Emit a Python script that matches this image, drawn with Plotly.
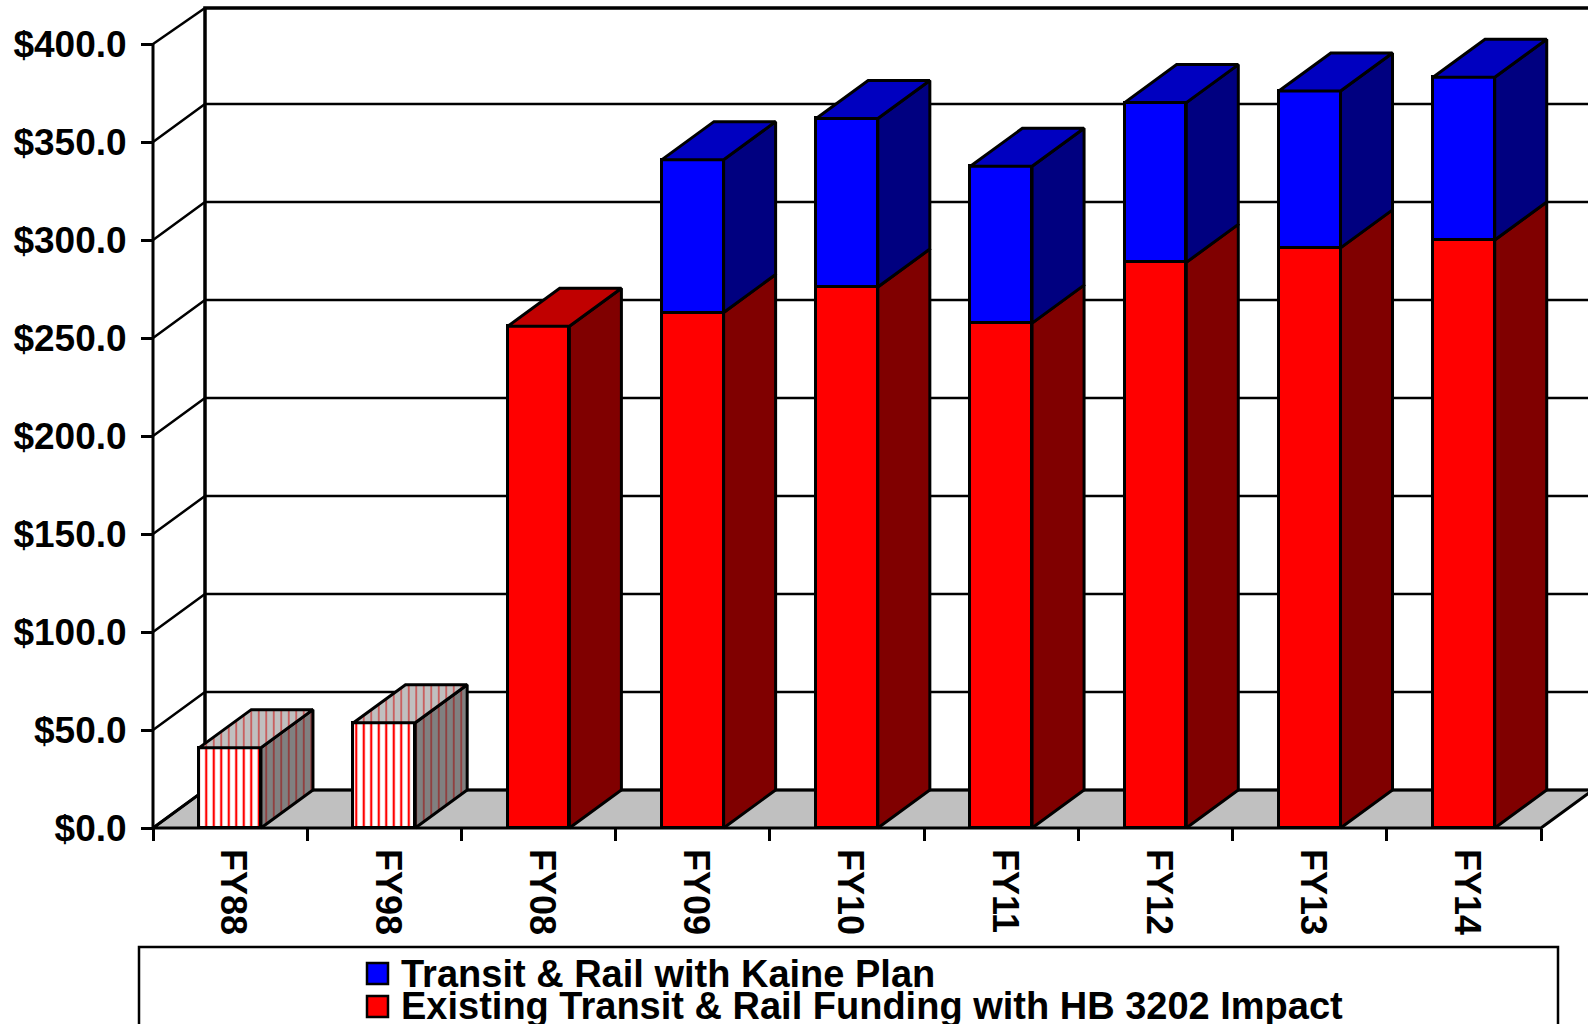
import plotly.graph_objects as go

categories = ["FY88", "FY98", "FY08", "FY09", "FY10", "FY11", "FY12", "FY13", "FY14"]
existing_funding = [41, 53.7, 256, 263, 276, 257.6, 288.6, 296, 300]
kaine_plan = [None, None, None, 78, 86, 80, 81.5, 80, 83]
hatched = [True, True, False, False, False, False, False, False, False]
y_ticks = [0, 50, 100, 150, 200, 250, 300, 350, 400]
y_labels = ["$0.0", "$50.0", "$100.0", "$150.0", "$200.0", "$250.0", "$300.0", "$350.0", "$400.0"]
legend_labels = ["Transit & Rail with Kaine Plan", "Existing Transit & Rail Funding with HB 3202 Impact"]

W, H = 1588, 1024
# pixel position of the chart's front axes; the axis ranges are extended to fill the page
X0, X1, Y0, Y400 = 153, 1541, 828, 44
n = len(categories)
CAT = (X1 - X0) / n
UNIT = (Y0 - Y400) / 400
x_range = [-X0 / CAT, (W - X0) / CAT]
y_range = [-(H - Y0) / UNIT, Y0 / UNIT]
DX = 52 / CAT          # depth in category units
DY = 38 / UNIT         # depth in value units
DY_TOP = 36 / UNIT     # the top edge of the back wall sits slightly lower
BAR = 0.40
LW = 3
FONT = "Liberation Sans"


def px(v):
    return v / W


def py(v):
    return (H - v) / H


fig = go.Figure()


def poly(xs, ys, fill=None, lw=LW, pattern=None, axes=("x", "y")):
    kw = dict(x=xs, y=ys, mode="lines", line=dict(color="black", width=lw),
              showlegend=False, hoverinfo="skip", xaxis=axes[0], yaxis=axes[1])
    if fill:
        kw.update(fill="toself", fillcolor=fill)
    if pattern:
        kw["fillpattern"] = pattern
    fig.add_trace(go.Scatter(**kw))


# walls and floor on the base axes
poly([0, DX, n + DX, n, 0], [0, DY, DY, 0, 0], fill="#C0C0C0")
gx, gy = [], []
for v in y_ticks[:-1]:
    gx += [0, DX, n + DX, None]
    gy += [v, v + DY, v + DY, None]
poly(gx, gy, lw=2.5)
top_v = y_ticks[-1]
poly([0, DX], [top_v, top_v + DY_TOP], lw=2.5)
poly([DX, DX, n + DX], [DY, top_v + DY_TOP, top_v + DY_TOP], lw=3.5)
poly([0, 0], [0, top_v], lw=LW)

# bars on an identical overlaid pair of axes, so they cover the walls
xs = [i + 0.5 for i in range(n)]
fig.add_trace(go.Bar(
    x=xs, y=[v if h else None for v, h in zip(existing_funding, hatched)],
    width=BAR, name="Earlier years", xaxis="x2", yaxis="y2",
    marker=dict(color="white", line=dict(color="black", width=LW),
                pattern=dict(shape="|", fgcolor="#FF0000", bgcolor="white", fgopacity=1,
                             size=7.5, solidity=0.3)),
    showlegend=False))
fig.add_trace(go.Bar(
    x=xs, y=[None if h else v for v, h in zip(existing_funding, hatched)],
    width=BAR, name=legend_labels[1], xaxis="x2", yaxis="y2",
    marker=dict(color="#FF0000", line=dict(color="black", width=LW)),
    showlegend=False))
fig.add_trace(go.Bar(
    x=xs, y=kaine_plan, width=BAR, name=legend_labels[0], xaxis="x2", yaxis="y2",
    marker=dict(color="#0000FF", line=dict(color="black", width=LW)),
    showlegend=False))

over = ("x2", "y2")
for i, c in enumerate(xs):
    xr = c + BAR / 2
    xl = c - BAR / 2
    lo, hi = 0, existing_funding[i]
    if hatched[i]:
        side_fill, top_fill = "#808080", "#C0C0C0"
        sp = dict(shape="|", fgcolor="#A00000", bgcolor="#808080", size=7.5, solidity=0.25)
        tp = dict(shape="|", fgcolor="#D00000", bgcolor="#C0C0C0", size=7.5, solidity=0.25)
    else:
        side_fill, top_fill, sp, tp = "#800000", "#C00000", None, None
    poly([xr, xr + DX, xr + DX, xr, xr], [lo, lo + DY, hi + DY, hi, lo], fill=side_fill, pattern=sp, axes=over)
    top = hi
    if kaine_plan[i] is not None:
        top = hi + kaine_plan[i]
        poly([xr, xr + DX, xr + DX, xr, xr], [hi, hi + DY, top + DY, top, hi], fill="#000080", axes=over)
        top_fill, tp = "#0000C0", None
    poly([xl, xl + DX, xr + DX, xr, xl], [top, top + DY, top + DY, top, top], fill=top_fill, pattern=tp, axes=over)

fig.update_layout(
    width=W, height=H, margin=dict(l=0, r=0, t=0, b=0, autoexpand=False),
    paper_bgcolor="white", plot_bgcolor="white", barmode="stack", bargap=0, showlegend=False,
    xaxis=dict(range=x_range, anchor="free", position=(H - Y0) / H,
               tickmode="array", tickvals=xs, ticktext=categories, tickangle=90,
               ticks="", showgrid=False, zeroline=False, showline=False,
               tickfont=dict(family=FONT, size=36, color="black", weight="bold"),
               ticklabelstandoff=20, ticklabelshift=3,
               minor=dict(tickmode="array", tickvals=list(range(n + 1)), ticks="outside",
                          ticklen=12, tickwidth=2.5, tickcolor="black", showgrid=False)),
    yaxis=dict(range=y_range, anchor="free", position=X0 / W,
               tickmode="array", tickvals=y_ticks, ticktext=y_labels,
               ticks="outside", ticklen=12, tickwidth=2.5, tickcolor="black", showgrid=False,
               zeroline=False, showline=False,
               tickfont=dict(family=FONT, size=37, color="black", weight="bold"), ticklabelstandoff=7),
    xaxis2=dict(overlaying="x", range=x_range, visible=False, anchor="y2"),
    yaxis2=dict(overlaying="y", range=y_range, visible=False, anchor="x2"),
    shapes=[
        dict(type="rect", xref="paper", yref="paper", x0=px(139), x1=px(1558), y0=py(1060), y1=py(947),
             line=dict(color="black", width=2.5), fillcolor="white", layer="above"),
        dict(type="rect", xref="paper", yref="paper", x0=px(367), x1=px(388), y0=py(984), y1=py(963),
             line=dict(color="black", width=2.5), fillcolor="#0000FF", layer="above"),
        dict(type="rect", xref="paper", yref="paper", x0=px(367), x1=px(388), y0=py(1017), y1=py(996),
             line=dict(color="black", width=2.5), fillcolor="#FF0000", layer="above"),
    ],
    annotations=[
        dict(text=t, xref="paper", yref="paper", x=px(399), y=py(yc), xanchor="left", yanchor="middle",
             showarrow=False, font=dict(family=FONT, size=38, color="black", weight="bold"))
        for t, yc in zip(legend_labels, [974, 1006])
    ],
)

fig.write_html("out.html", config={"displayModeBar": False},
               post_script="document.body.style.margin='0';document.body.style.overflow='hidden';")
